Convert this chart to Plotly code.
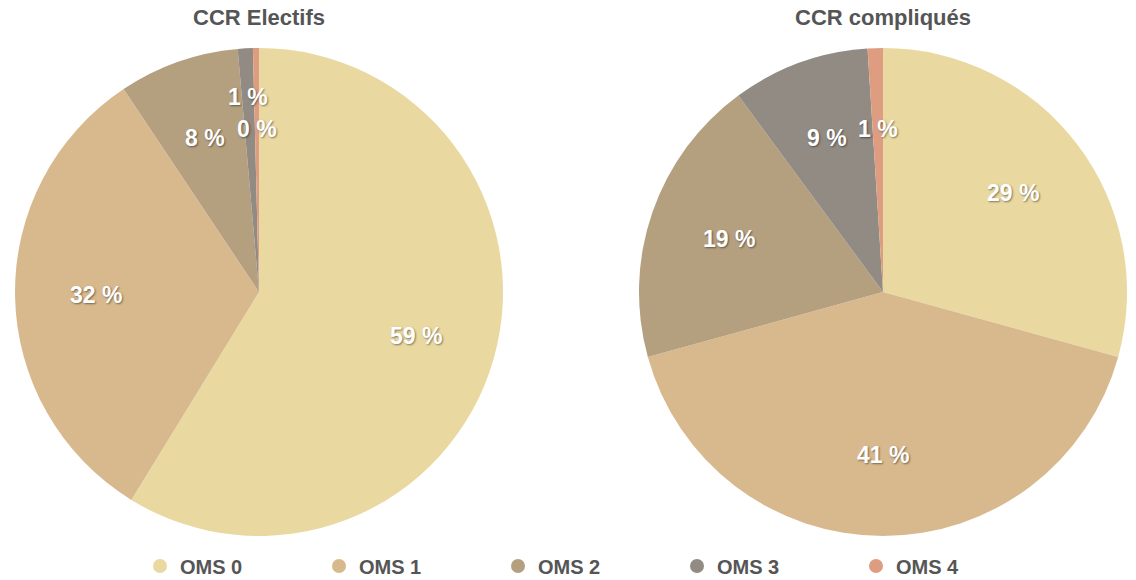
import math

import plotly.graph_objects as go

# Data
categories = ['OMS 0', 'OMS 1', 'OMS 2', 'OMS 3', 'OMS 4']
electifs = [59, 32, 8, 1, 0.4]
compliques = [29, 41, 19, 9, 1]
titles = ['CCR Electifs', 'CCR compliqués']
colors = ['#E9D9A1', '#D8B98D', '#B4A07F', '#928B83', '#DE9D80']

W, H = 1136, 580
R = 244  # pie radius in px
centers = [(259, 292), (883, 292)]
FONT = 'Liberation Sans, Arial, sans-serif'


def pie_domain(cx, cy):
    return dict(x=[(cx - R) / W, (cx + R) / W], y=[1 - (cy + R) / H, 1 - (cy - R) / H])


def slice_labels(values, cx, cy):
    """Percentage labels placed at the middle angle of every slice"""
    total = sum(values)
    notes = []
    cum = 0
    for i, v in enumerate(values):
        mid = (cum + v / 2) / total * 2 * math.pi
        cum += v
        share = v / total
        nxt = values[i + 1] / total if i + 1 < len(values) else 1
        # two tiny neighbouring slices: push the first label outwards
        rf = 0.8 if share < 0.02 and nxt < 0.02 else 0.67
        x = cx + rf * R * math.sin(mid)
        y = cy - rf * R * math.cos(mid)
        notes.append(dict(
            x=x / W, y=1 - y / H, xref='paper', yref='paper',
            text=f'{v:.0f} %', showarrow=False, xanchor='center', yanchor='middle',
            font=dict(family=FONT, size=23, color='white', weight='bold',
                      shadow='1px 1px 2px rgba(0,0,0,0.45)'),
        ))
    return notes


fig = go.Figure()
annotations = []
for vals, title, (cx, cy) in zip([electifs, compliques], titles, centers):
    fig.add_trace(go.Pie(
        labels=categories, values=vals, sort=False, direction='clockwise', rotation=0,
        marker=dict(colors=colors, line=dict(width=0)),
        textinfo='none', hoverinfo='label+percent', showlegend=False,
        domain=pie_domain(cx, cy),
    ))
    annotations += slice_labels(vals, cx, cy)
    annotations.append(dict(
        x=cx / W, y=1 - 18 / H, xref='paper', yref='paper', text=title, showarrow=False,
        xanchor='center', yanchor='middle',
        font=dict(family=FONT, size=22, color='#555555', weight='bold'),
    ))

# legend entries with round markers
for name, c in zip(categories, colors):
    fig.add_trace(go.Scatter(x=[None], y=[None], mode='markers', name=name,
                             marker=dict(symbol='circle', size=14, color=c)))

fig.update_layout(
    width=W, height=H,
    margin=dict(l=0, r=0, t=0, b=0, autoexpand=False),
    paper_bgcolor='white', plot_bgcolor='white',
    xaxis=dict(visible=False), yaxis=dict(visible=False),
    annotations=annotations,
    legend=dict(orientation='h', xref='container', yref='container',
                x=(168 - 28) / W, xanchor='left', y=1 - 566 / H, yanchor='middle',
                entrywidth=134, entrywidthmode='pixels',
                font=dict(family=FONT, size=20, color='#555555', weight='bold')),
)

# drop the default page margin so the figure sits at the window's top-left corner
fig.write_html("out.html", config={'displayModeBar': False},
               post_script="document.body.style.margin = '0';")
